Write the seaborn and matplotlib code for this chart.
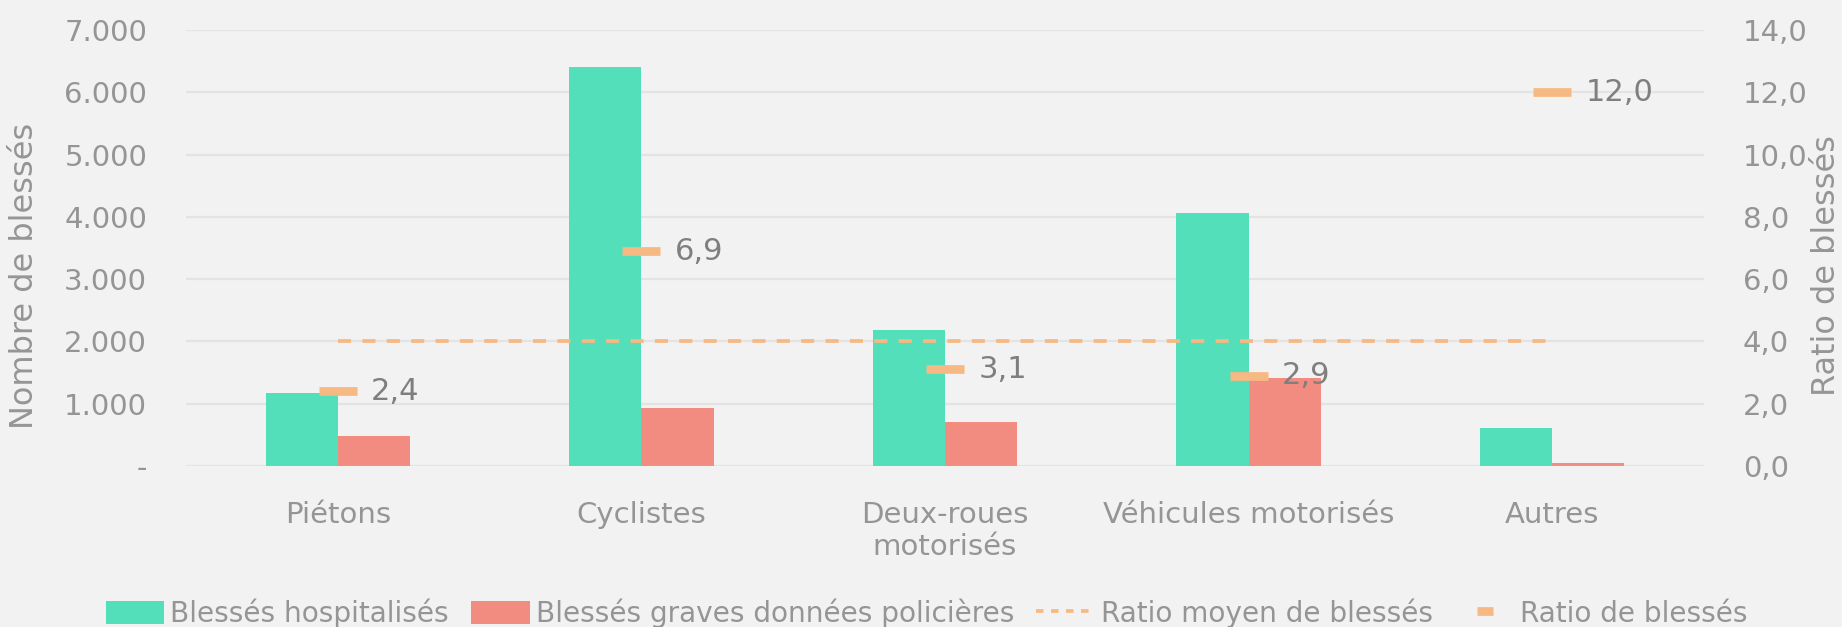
import numpy as np
import pandas as pd
import seaborn as sns
import matplotlib.pyplot as plt
from matplotlib.patches import Patch
from matplotlib.lines import Line2D
from matplotlib.ticker import FuncFormatter

# data
categories = ["Piétons", "Cyclistes", "Deux-roues\nmotorisés", "Véhicules motorisés", "Autres"]
blesses_hospitalises = [1170, 6400, 2190, 4060, 610]
blesses_graves_police = [480, 930, 710, 1410, 50]
ratio_blesses = [2.4, 6.9, 3.1, 2.9, 12.0]
ratio_moyen = 4.0

series_names = ["Blessés hospitalisés", "Blessés graves données policières"]

GREEN = "#52DFB9"
RED = "#F28C80"
ORANGE = "#F7B984"
BG = "#F2F2F2"
TICK_GREY = "#959595"
LABEL_GREY = "#7F7F7F"

df = pd.DataFrame({
    "Catégorie": categories * 2,
    "Blessés": blesses_hospitalises + blesses_graves_police,
    "Série": [series_names[0]] * len(categories) + [series_names[1]] * len(categories),
})

sns.set_theme(style="whitegrid")
plt.rcParams["font.family"] = ["DejaVu Sans"]
plt.rcParams["axes.facecolor"] = BG
plt.rcParams["figure.facecolor"] = BG
plt.rcParams["grid.color"] = "#E3E3E3"
plt.rcParams["grid.linewidth"] = 1.6

fig, ax = plt.subplots(figsize=(18.42, 6.27), dpi=100)
fig.subplots_adjust(left=0.101, right=0.925, bottom=0.257, top=0.952)

sns.barplot(data=df, x="Catégorie", y="Blessés", hue="Série", palette=[GREEN, RED],
            width=0.476, gap=0, linewidth=0, saturation=1, legend=False, ax=ax)

ax.set_xlim(-0.5, len(categories) - 0.5)
ax.set_ylim(0, 7000)
ax.set_yticks(range(0, 7001, 1000))
ax.yaxis.set_major_formatter(FuncFormatter(
    lambda v, p: "-" if v == 0 else f"{v:,.0f}".replace(",", ".")))
ax.set_xlabel("")
ax.set_ylabel("Nombre de blessés", fontsize=23, color=TICK_GREY)
ax.yaxis.set_label_coords(-0.096, 0.435)
ax.tick_params(axis="both", length=0, labelsize=21, labelcolor=TICK_GREY)
ax.tick_params(axis="x", pad=25)
ax.tick_params(axis="y", pad=28)
for s in ax.spines.values():
    s.set_visible(False)

ax2 = ax.twinx()
ax2.set_ylim(0, 14)
ax2.set_yticks(range(0, 15, 2))
ax2.yaxis.set_major_formatter(FuncFormatter(lambda v, p: f"{v:.1f}".replace(".", ",")))
ax2.grid(False)
ax2.tick_params(axis="y", length=0, labelsize=21, labelcolor=TICK_GREY, pad=28)
ax2.set_ylabel("Ratio de blessés", fontsize=23, color=TICK_GREY)
ax2.yaxis.set_label_coords(1.0705, 0.46)
for s in ax2.spines.values():
    s.set_visible(False)

x = np.arange(len(categories))
ax2.plot(x, np.full(len(x), ratio_moyen), color=ORANGE, lw=2.7, ls=(0, (3.5, 3.0)))
ax2.plot(x, ratio_blesses, ls="none", marker="_", ms=28, mew=6.3, color=ORANGE)
for xi, r in zip(x, ratio_blesses):
    ax2.annotate(f"{r:.1f}".replace(".", ","), (xi, r), xytext=(24, 0),
                 textcoords="offset points", va="center", ha="left",
                 fontsize=22, color=LABEL_GREY)

handles = [
    Patch(facecolor=GREEN, edgecolor="none"),
    Patch(facecolor=RED, edgecolor="none"),
    Line2D([0], [0], color=ORANGE, lw=2.7, ls=(0, (2.0, 2.0))),
    Line2D([0], [0], color=ORANGE, ls="none", marker="_", ms=12, mew=6.3),
]
labels = series_names + ["Ratio moyen de blessés", "Ratio de blessés"]
fig.legend(handles, labels, loc="lower center", bbox_to_anchor=(0.503, -0.042), ncol=4,
           frameon=False, fontsize=20.2, labelcolor=TICK_GREY, handlelength=2.1,
           handleheight=0.9, handletextpad=0.2, columnspacing=0.8)

fig.savefig("out.png", dpi=100, facecolor=BG)
